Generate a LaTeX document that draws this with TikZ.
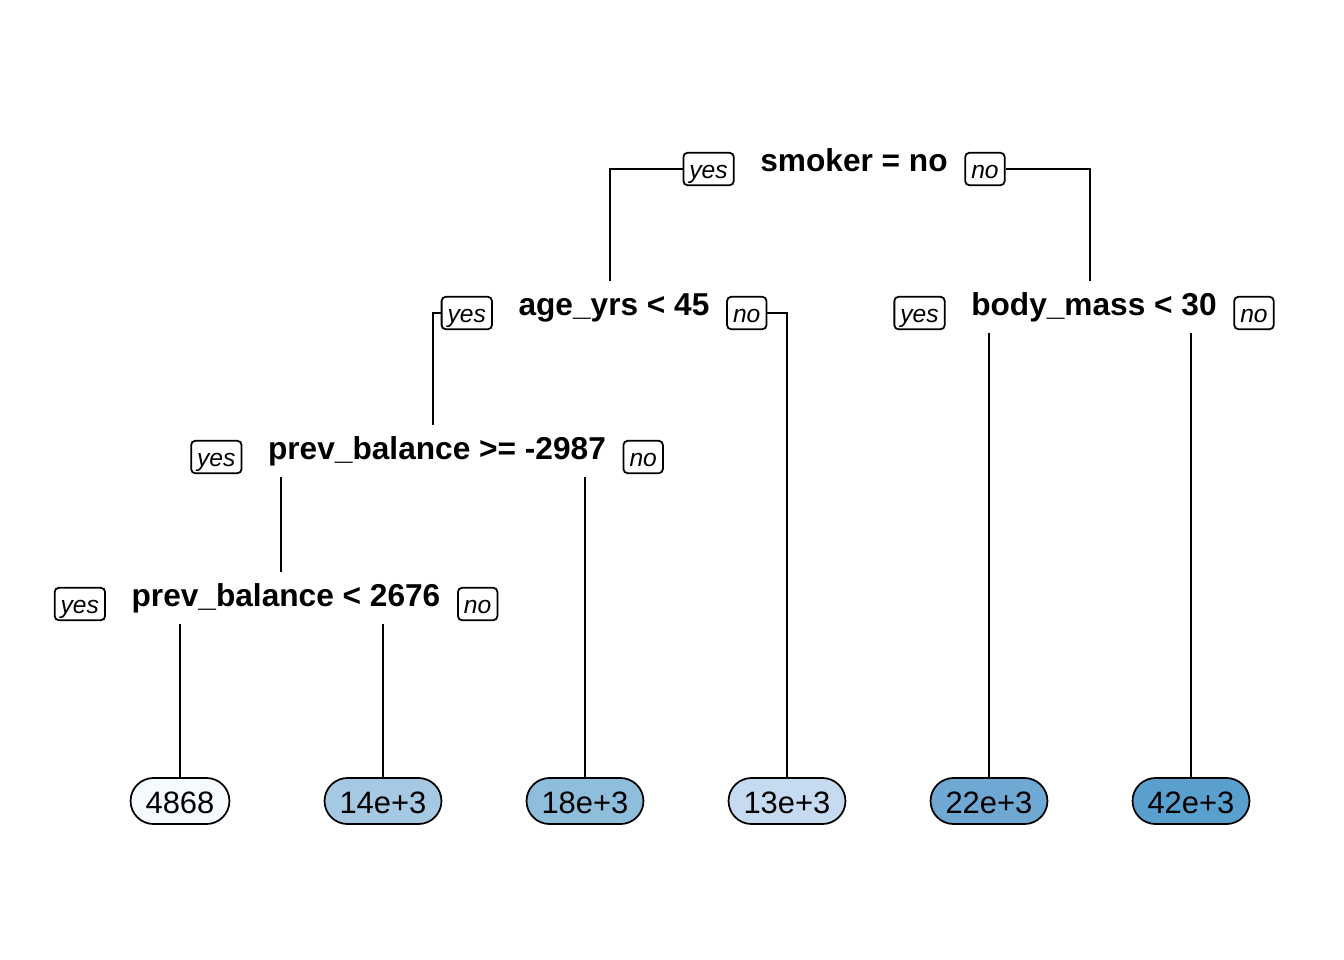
\documentclass[tikz,border=0pt]{standalone}
\usepackage{fontspec}
\setmainfont{Liberation Sans}
\usetikzlibrary{positioning}

\definecolor{leafA}{HTML}{F5FAFE}
\definecolor{leafB}{HTML}{A5C8E3}
\definecolor{leafC}{HTML}{8FBDDC}
\definecolor{leafD}{HTML}{C6DBEF}
\definecolor{leafE}{HTML}{6FA9D3}
\definecolor{leafF}{HTML}{5AA0CE}

\begin{document}
\begin{tikzpicture}[
        x=0.01cm, y=-0.01cm,
        split/.style={inner xsep=0.1cm, inner ysep=2.3pt, text height=0.75em, text depth=0.25em,
          font=\fontsize{9pt}{10pt}\selectfont\bfseries},
        answer/.style={rectangle, draw, line width=0.5pt, rounded corners=0.04cm, inner xsep=0.06cm,
          inner ysep=0pt, minimum height=0.26cm, text height=0.72em, text depth=0.2em,
          font=\fontsize{7pt}{8pt}\selectfont\itshape, yshift=-0.06cm},
        leaf/.style={rectangle, draw, line width=0.5pt, rounded corners=0.23cm, inner xsep=0.15cm,
          inner ysep=0pt, minimum height=0.46cm, text height=0.72em, text depth=0.02em,
          font=\fontsize{8.8pt}{10pt}\selectfont},
        branch/.style={line width=0.45pt}
      ]
      \useasboundingbox (0,0) rectangle (1344,960);

      % Splits
      \node[split] (smoker) at (854,163) {smoker = no};
      \node[split] (age) at (614,307) {age\_yrs < 45};
      \node[split] (bmi) at (1094,307) {body\_mass < 30};
      \node[split] (pbge) at (437,451) {prev\_balance >= -2987};
      \node[split] (pblt) at (286,598) {prev\_balance < 2676};

      % Yes / no tags
      \node[answer, left=0.15cm of smoker] (smokeryes) {yes};
      \node[answer, right=0.06cm of smoker] (smokerno) {no};
      \node[answer, left=0.15cm of age] (ageyes) {yes};
      \node[answer, right=0.06cm of age] (ageno) {no};
      \node[answer, left=0.15cm of bmi] (bmiyes) {yes};
      \node[answer, right=0.06cm of bmi] (bmino) {no};
      \node[answer, left=0.15cm of pbge] (pbgeyes) {yes};
      \node[answer, right=0.06cm of pbge] (pbgeno) {no};
      \node[answer, left=0.15cm of pblt] (pbltyes) {yes};
      \node[answer, right=0.06cm of pblt] (pbltno) {no};

      % Leaves
      \node[leaf, fill=leafA] (leafa) at (180,801) {4868};
      \node[leaf, fill=leafB] (leafb) at (383,801) {14e+3};
      \node[leaf, fill=leafC] (leafc) at (585,801) {18e+3};
      \node[leaf, fill=leafD] (leafd) at (787,801) {13e+3};
      \node[leaf, fill=leafE] (leafe) at (989,801) {22e+3};
      \node[leaf, fill=leafF] (leaff) at (1191,801) {42e+3};

      % Connections
      \draw[branch] (smokeryes.west) -| ([xshift=-0.04cm]age.north);
      \draw[branch] (smokerno.east) -| ([xshift=-0.04cm]bmi.north);
      \draw[branch] (ageyes.west) -| ([xshift=-0.04cm]pbge.north);
      \draw[branch] (ageno.east) -| (leafd.north);
      \draw[branch] (bmi.south -| leafe.north) -- (leafe.north);
      \draw[branch] (bmi.south -| leaff.north) -- (leaff.north);
      \draw[branch] ([xshift=-0.05cm]pbge.south -| pblt.north) -- ([xshift=-0.05cm]pblt.north);
      \draw[branch] (pbge.south -| leafc.north) -- (leafc.north);
      \draw[branch] (pblt.south -| leafa.north) -- (leafa.north);
      \draw[branch] (pblt.south -| leafb.north) -- (leafb.north);

      \end{tikzpicture}
\end{document}
